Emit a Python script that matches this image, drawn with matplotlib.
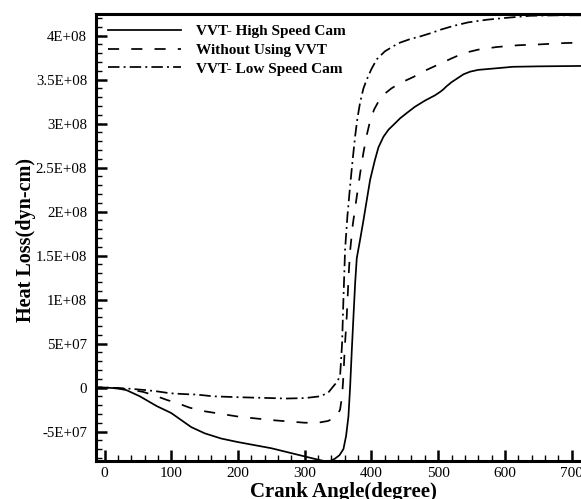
#!/usr/bin/env python3
"""
Heat loss vs crank angle for the three valve timing cases.
"""

import matplotlib
matplotlib.use('Agg')
import matplotlib.pyplot as plt
from matplotlib.ticker import MultipleLocator, FixedLocator, FixedFormatter

# VVT - high speed cam (solid)
angle_high = [-20, 0, 20, 33, 53, 78, 100, 115, 130, 150, 175, 200, 250, 293, 320,
              335, 345, 352, 358, 362, 365.5, 368, 370.6, 373, 375.6, 378, 383,
              388, 393, 398, 405, 410.5, 418, 425.5, 435, 443, 453, 465, 480, 495,
              503, 508, 512, 520, 528, 538, 548, 560, 575, 590, 612, 650, 720]
heat_high = [0, 0, -1.0e6, -3.0e6, -1.0e7, -2.1e7, -2.9e7, -3.7e7, -4.5e7, -5.2e7,
             -5.8e7, -6.2e7, -6.9e7, -7.7e7, -8.2e7, -8.45e7, -8.1e7, -7.7e7,
             -7.0e7, -5.5e7, -3.3e7, 0.0, 4.3e7, 8.0e7, 1.19e8, 1.47e8, 1.68e8,
             1.9e8, 2.13e8, 2.36e8, 2.58e8, 2.73e8, 2.85e8, 2.93e8, 3.0e8, 3.06e8,
             3.12e8, 3.19e8, 3.26e8, 3.32e8, 3.36e8, 3.39e8, 3.42e8, 3.47e8,
             3.51e8, 3.56e8, 3.59e8, 3.61e8, 3.62e8, 3.63e8, 3.645e8, 3.65e8, 3.655e8]

# without using VVT (dashed)
angle_base = [-20, 0, 20, 40, 58, 75, 93, 110, 128, 150, 175, 200, 250, 300, 320,
              335, 348, 353, 356, 358, 360, 363, 366, 368, 372, 378, 383, 388,
              393, 398, 404, 410.5, 420, 430, 443, 463, 480, 500, 520, 538, 560,
              588, 620, 653, 690, 720]
heat_base = [0, 0, -1.0e6, -2.5e6, -5.0e6, -9.0e6, -1.4e7, -1.8e7, -2.3e7, -2.7e7,
             -3.0e7, -3.3e7, -3.7e7, -4.0e7, -4.0e7, -3.8e7, -3.3e7, -2.5e7,
             -1.0e7, 1.3e7, 4.5e7, 8.1e7, 1.3e8, 1.55e8, 1.85e8, 2.17e8, 2.43e8,
             2.67e8, 2.87e8, 3.03e8, 3.16e8, 3.25e8, 3.34e8, 3.4e8, 3.46e8,
             3.53e8, 3.6e8, 3.67e8, 3.74e8, 3.8e8, 3.84e8, 3.87e8, 3.89e8, 3.9e8,
             3.915e8, 3.92e8]

# VVT - low speed cam (dash-dot)
angle_low = [-20, 0, 20, 40, 63, 80, 98, 120, 138, 163, 200, 250, 273, 300, 323,
             335, 343, 348, 353, 356, 358, 360.5, 364, 368, 372, 375.6, 379, 383,
             388, 393, 400, 408, 420, 433, 443, 458, 473, 490, 505, 523, 545, 573,
             600, 638, 680, 720]
heat_low = [0, 0, -0.5e6, -1.5e6, -3.0e6, -4.5e6, -6.5e6, -7.5e6, -8.0e6, -1.0e7,
            -1.1e7, -1.2e7, -1.25e7, -1.2e7, -1.0e7, -6.0e6, 1.5e6, 6.0e6, 1.3e7,
            5.0e7, 1.0e8, 1.57e8, 1.95e8, 2.29e8, 2.6e8, 2.86e8, 3.06e8, 3.24e8,
            3.4e8, 3.5e8, 3.62e8, 3.73e8, 3.82e8, 3.88e8, 3.92e8, 3.96e8, 3.99e8,
            4.03e8, 4.07e8, 4.11e8, 4.15e8, 4.18e8, 4.2e8, 4.225e8, 4.23e8, 4.23e8]

series_labels = ['VVT- High Speed Cam', 'Without Using VVT', 'VVT- Low Speed Cam']

y_ticks = [-5e7, 0, 5e7, 1e8, 1.5e8, 2e8, 2.5e8, 3e8, 3.5e8, 4e8]
y_tick_labels = ['-5E+07', '0', '5E+07', '1E+08', '1.5E+08', '2E+08',
                 '2.5E+08', '3E+08', '3.5E+08', '4E+08']
x_ticks = [0, 100, 200, 300, 400, 500, 600, 700]

plt.rcParams['font.family'] = ['Liberation Serif', 'DejaVu Serif']

fig = plt.figure(figsize=(5.81, 4.99), dpi=100)
ax = fig.add_axes([95.5 / 581, 38 / 499, (585 - 95.5) / 581, 447 / 499])

lw = 1.25
ax.plot(angle_high, heat_high, color='black', lw=lw, linestyle='-',
        label=series_labels[0])
ax.plot(angle_base, heat_base, color='black', lw=lw, linestyle=(0, (6.4, 7.0)),
        label=series_labels[1])
ax.plot(angle_low, heat_low, color='black', lw=lw,
        linestyle=(0, (6.6, 2.4, 1.1, 2.4)), label=series_labels[2])

ax.set_xlim(-13.5, 720)
ax.set_ylim(-8.35e7, 4.245e8)

ax.xaxis.set_major_locator(FixedLocator(x_ticks))
ax.xaxis.set_minor_locator(MultipleLocator(20))
ax.yaxis.set_major_locator(FixedLocator(y_ticks))
ax.yaxis.set_major_formatter(FixedFormatter(y_tick_labels))
ax.yaxis.set_minor_locator(MultipleLocator(1e7))

ax.tick_params(which='both', direction='in', top=False, right=False, color='black')
ax.tick_params(which='major', length=8, width=1.8)
ax.tick_params(which='minor', length=4.5, width=1.0)
ax.tick_params(axis='x', which='major', labelsize=11, pad=4)
ax.tick_params(axis='y', which='major', labelsize=10.7, pad=6)

for side in ['left', 'bottom', 'top']:
    ax.spines[side].set_linewidth(2.2)
ax.spines['right'].set_visible(False)

fig.text(343 / 581, 1 - 497 / 499, 'Crank Angle(degree)', ha='center',
         va='baseline', fontsize=15, fontweight='bold')
fig.text(26 / 581, 1 - 239.5 / 499, 'Heat Loss(dyn-cm)', ha='center', va='center',
         rotation=90, fontsize=14.5, fontweight='bold')

ax.legend(loc='upper left', bbox_to_anchor=(108 / 581, 1 - 24.5 / 499),
          bbox_transform=fig.transFigure, frameon=False, borderpad=0,
          borderaxespad=0, handlelength=4.8, handletextpad=0.95,
          labelspacing=0.33,
          prop={'family': 'Liberation Serif', 'weight': 'bold', 'size': 11})

fig.savefig('out.png', dpi=100)
plt.close(fig)
